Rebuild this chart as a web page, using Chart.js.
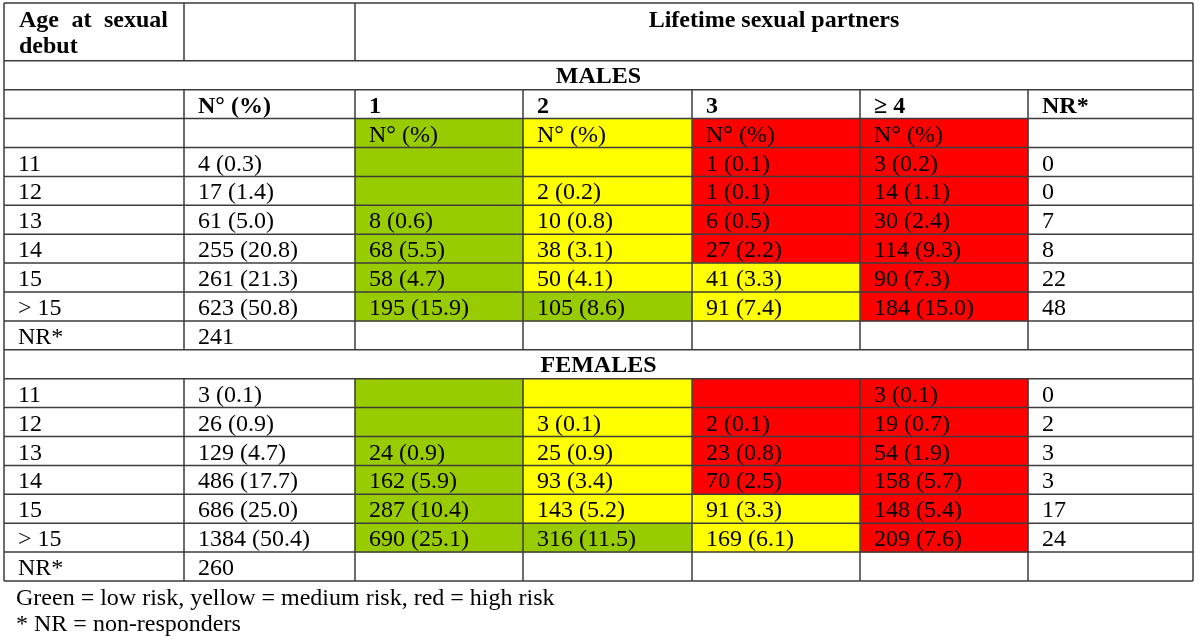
<!DOCTYPE html>
<html>
<head>
<meta charset="utf-8">
<script src="https://cdn.jsdelivr.net/npm/chart.js@4.4.1/dist/chart.umd.min.js"></script>
<style>
  html, body { margin: 0; padding: 0; background: #ffffff; }
  #c { display: block; }
</style>
</head>
<body>
<canvas id="c" width="1200" height="644"></canvas>
<script>
// ---------- DATA ----------
const ageGroups = ['11', '12', '13', '14', '15', '> 15', 'NR*'];
const partnerHeaders = ['1', '2', '3', '\u2265 4', 'NR*'];
const sexLabels = ['MALES', 'FEMALES'];

const maleTotalN = [4, 17, 61, 255, 261, 623, 241];
const maleTotalPct = [0.3, 1.4, 5.0, 20.8, 21.3, 50.8, null];
const maleCount = [
  [null, null, 1, 3],
  [null, 2, 1, 14],
  [8, 10, 6, 30],
  [68, 38, 27, 114],
  [58, 50, 41, 90],
  [195, 105, 91, 184]
];
const malePct = [
  [null, null, 0.1, 0.2],
  [null, 0.2, 0.1, 1.1],
  [0.6, 0.8, 0.5, 2.4],
  [5.5, 3.1, 2.2, 9.3],
  [4.7, 4.1, 3.3, 7.3],
  [15.9, 8.6, 7.4, 15.0]
];
const maleNR = [0, 0, 7, 8, 22, 48];

const femaleTotalN = [3, 26, 129, 486, 686, 1384, 260];
const femaleTotalPct = [0.1, 0.9, 4.7, 17.7, 25.0, 50.4, null];
const femaleCount = [
  [null, null, null, 3],
  [null, 3, 2, 19],
  [24, 25, 23, 54],
  [162, 93, 70, 158],
  [287, 143, 91, 148],
  [690, 316, 169, 209]
];
const femalePct = [
  [null, null, null, 0.1],
  [null, 0.1, 0.1, 0.7],
  [0.9, 0.9, 0.8, 1.9],
  [5.9, 3.4, 2.5, 5.7],
  [10.4, 5.2, 3.3, 5.4],
  [25.1, 11.5, 6.1, 7.6]
];
const femaleNR = [0, 2, 3, 3, 17, 24];

// risk level per age row (11..>15) and partner column (1,2,3,>=4)
const headerRisk = ['low', 'medium', 'high', 'high'];
const maleRisk = [
  ['low', 'medium', 'high', 'high'],
  ['low', 'medium', 'high', 'high'],
  ['low', 'medium', 'high', 'high'],
  ['low', 'medium', 'high', 'high'],
  ['low', 'medium', 'medium', 'high'],
  ['low', 'low', 'medium', 'high']
];
const femaleRisk = [
  ['low', 'medium', 'high', 'high'],
  ['low', 'medium', 'high', 'high'],
  ['low', 'medium', 'high', 'high'],
  ['low', 'medium', 'high', 'high'],
  ['low', 'medium', 'medium', 'high'],
  ['low', 'low', 'medium', 'high']
];

const footnotes = ['Green = low risk, yellow = medium risk, red = high risk', '* NR = non-responders'];

// ---------- LAYOUT / STYLE ----------
const riskColor = { low: '#99CC00', medium: '#FFFF00', high: '#FF0000' };
const colEdges = [0, 180, 351, 519, 688, 856, 1024, 1189]; // x-scale units
const FONT = '"Liberation Serif", "Times New Roman", serif';
const LINE = '#3c3c3c';

// slot layout: 0-1 header, 2 MALES, 3 column headers, 4 N°(%), 5-11 male rows, 12 FEMALES, 13-19 female rows
const slotKinds = ['head', 'head2', 'sex', 'colhead', 'unit'];
ageGroups.forEach(() => slotKinds.push('m'));
slotKinds.push('sex');
ageGroups.forEach(() => slotKinds.push('f'));
const slotLabels = slotKinds.map((k, i) => 'slot' + i);

function fmt(n, p) {
  if (n === null || n === undefined) return '';
  return p === null || p === undefined ? String(n) : n + ' (' + p.toFixed(1) + ')';
}

// build cell text grid (per slot, per column 0..6)
const cellText = slotKinds.map(() => ['', '', '', '', '', '', '']);
const cellBold = slotKinds.map(() => false);
cellText[3] = ['', 'N\u00B0 (%)'].concat(partnerHeaders);
cellBold[3] = true;
cellText[4] = ['', '', 'N\u00B0 (%)', 'N\u00B0 (%)', 'N\u00B0 (%)', 'N\u00B0 (%)', ''];
function fillSex(start, totN, totP, cnt, pct, nr) {
  ageGroups.forEach((a, r) => {
    const row = [a, fmt(totN[r], totP[r])];
    for (let c = 0; c < 4; c++) row.push(cnt[r] ? fmt(cnt[r][c], pct[r][c]) : '');
    row.push(nr[r] !== undefined ? String(nr[r]) : '');
    cellText[start + r] = row;
  });
}
fillSex(5, maleTotalN, maleTotalPct, maleCount, malePct, maleNR);
fillSex(13, femaleTotalN, femaleTotalPct, femaleCount, femalePct, femaleNR);

// colored-cell datasets, one per partner column
const datasets = [0, 1, 2, 3].map(c => {
  const data = [], colors = [];
  slotKinds.forEach((k, i) => {
    let risk = null;
    if (i === 4) risk = headerRisk[c];
    else if (k === 'm' && i - 5 < maleRisk.length) risk = maleRisk[i - 5][c];
    else if (k === 'f' && i - 13 < femaleRisk.length) risk = femaleRisk[i - 13][c];
    if (risk) { data.push([colEdges[c + 2], colEdges[c + 3]]); colors.push(riskColor[risk]); }
    else { data.push(null); colors.push('rgba(0,0,0,0)'); }
  });
  return {
    label: partnerHeaders[c], data, backgroundColor: colors,
    borderWidth: 0, barPercentage: 1, categoryPercentage: 1, grouped: false
  };
});

// ---------- TABLE PLUGIN (lines + text, positioned through the chart scales) ----------
const tablePlugin = {
  id: 'tablePlugin',
  afterDatasetsDraw(chart) {
    const ctx = chart.ctx;
    const xs = chart.scales.x, ys = chart.scales.y;
    const X = v => xs.getPixelForValue(v);
    const n = slotKinds.length;
    const h = (ys.getPixelForValue(1) - ys.getPixelForValue(0));
    const top = i => ys.getPixelForValue(i) - h / 2;
    const bot = i => ys.getPixelForValue(i) + h / 2;
    const L = X(colEdges[0]), R = X(colEdges[colEdges.length - 1]);

    ctx.save();
    // horizontal lines
    ctx.strokeStyle = LINE; ctx.lineWidth = 1.5;
    ctx.beginPath();
    for (let i = 0; i <= n; i++) {
      if (i === 1) continue;
      const y = i < n ? top(i) : bot(n - 1);
      ctx.moveTo(L, y); ctx.lineTo(R, y);
    }
    ctx.stroke();
    // vertical lines
    ctx.beginPath();
    slotKinds.forEach((k, i) => {
      let edges;
      if (k === 'head' || k === 'head2') edges = [0, 1, 2, 7];
      else if (k === 'sex') edges = [0, 7];
      else edges = [0, 1, 2, 3, 4, 5, 6, 7];
      edges.forEach(e => { const x = X(colEdges[e]); ctx.moveTo(x, top(i)); ctx.lineTo(x, bot(i)); });
    });
    ctx.stroke();

    ctx.fillStyle = '#000';
    ctx.textBaseline = 'alphabetic';
    // header: justified "Age at sexual" / "debut"
    ctx.font = 'bold 24px ' + FONT;
    const words = ['Age', 'at', 'sexual'];
    const x0 = X(colEdges[0]) + 15, x1 = X(colEdges[1]) - 16;
    const wsum = words.reduce((s, w) => s + ctx.measureText(w).width, 0);
    const gap = (x1 - x0 - wsum) / (words.length - 1);
    let cx = x0;
    const hb = top(0) + 23.5;
    words.forEach(w => { ctx.textAlign = 'left'; ctx.fillText(w, cx, hb); cx += ctx.measureText(w).width + gap; });
    ctx.fillText('debut', x0, hb + 26.5);
    ctx.textAlign = 'center';
    ctx.fillText('Lifetime sexual partners', (X(colEdges[2]) + R) / 2, hb);
    // sex section rows
    let sx = 0;
    slotKinds.forEach((k, i) => {
      if (k === 'sex') { ctx.fillText(sexLabels[sx++], (L + R) / 2, top(i) + 22.5); }
    });
    // cells
    ctx.textAlign = 'left';
    cellText.forEach((row, i) => {
      ctx.font = (cellBold[i] ? 'bold ' : '') + '24px ' + FONT;
      row.forEach((t, c) => {
        if (!t) return;
        ctx.fillText(t, X(colEdges[c]) + 14, top(i) + 23);
      });
    });
    // footnotes
    ctx.font = '24px ' + FONT;
    footnotes.forEach((t, j) => ctx.fillText(t, L + 12, bot(n - 1) + 23.5 + j * 26));
    ctx.restore();
  }
};

new Chart(document.getElementById('c'), {
  type: 'bar',
  data: { labels: slotLabels, datasets },
  options: {
    indexAxis: 'y',
    responsive: false,
    animation: false,
    layout: { padding: { left: 4, right: 7, top: 3, bottom: 63 } },
    plugins: { legend: { display: false }, tooltip: { enabled: false } },
    scales: {
      x: { type: 'linear', min: colEdges[0], max: colEdges[colEdges.length - 1], display: false },
      y: { type: 'category', display: false, offset: true }
    }
  },
  plugins: [tablePlugin]
});
</script>
</body>
</html>
